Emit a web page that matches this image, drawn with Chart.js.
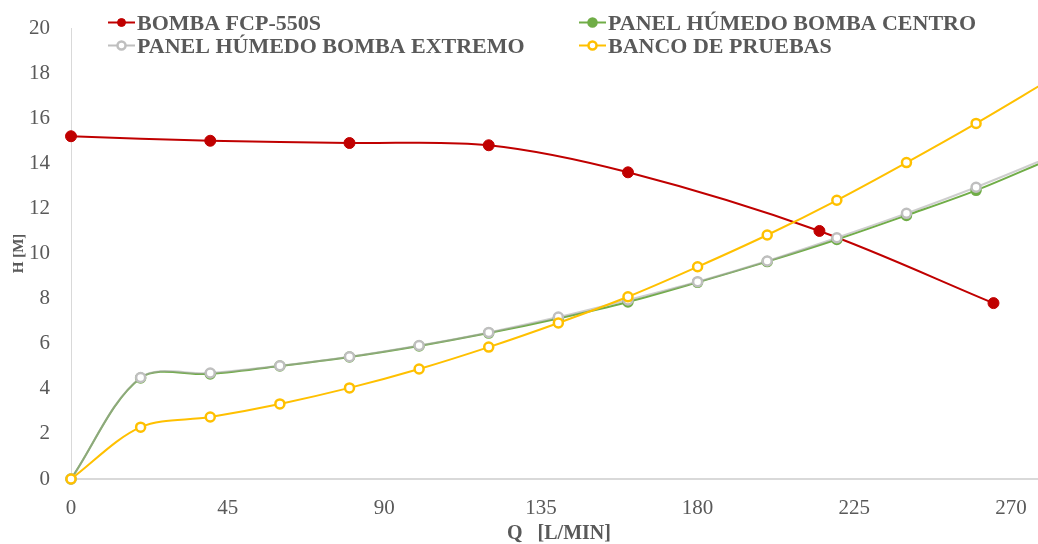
<!DOCTYPE html>
<html>
<head>
<meta charset="utf-8">
<script src="https://cdn.jsdelivr.net/npm/chart.js@4.4.1/dist/chart.umd.min.js"></script>
<style>
  html, body { margin: 0; padding: 0; background: #ffffff; }
  #wrap { width: 1038px; height: 544px; }
</style>
</head>
<body>
<div id="wrap"><canvas id="curvesChart" width="1038" height="544"></canvas></div>
<script>
// caudal Q [L/min] y altura H [m]
const flowBomba = [0, 40, 80, 120, 160, 215, 265];
const headBomba = [15.2, 15.0, 14.9, 14.8, 13.6, 11.0, 7.8];

const flowPanel = [0, 20, 40, 60, 80, 100, 120, 140, 160, 180, 200, 220, 240, 260, 280];
const headCentro = [0, 4.48, 4.66, 5.01, 5.41, 5.9, 6.47, 7.12, 7.85, 8.72, 9.64, 10.62, 11.69, 12.8, 14.1];
const headExtremo = [0, 4.5, 4.7, 5.02, 5.42, 5.92, 6.5, 7.18, 7.94, 8.75, 9.67, 10.7, 11.78, 12.94, 14.2];
const headBanco = [0, 2.3, 2.75, 3.33, 4.04, 4.88, 5.85, 6.92, 8.08, 9.41, 10.82, 12.36, 14.03, 15.77, 17.6];

const seriesNames = ['BOMBA FCP-550S', 'PANEL HÚMEDO BOMBA CENTRO', 'PANEL HÚMEDO BOMBA EXTREMO', 'BANCO DE PRUEBAS'];
const xTicks = [0, 45, 90, 135, 180, 225, 270];
const yTicks = [0, 2, 4, 6, 8, 10, 12, 14, 16, 18, 20];

const textColor = '#595959';
const serif = "'Liberation Serif', 'Times New Roman', serif";

function toPoints(xs, ys) {
    return xs.map((x, i) => ({x: x, y: ys[i]}));
}

function makeSeries(label, xs, ys, color, fill, lineColor, order) {
    return {
        label: label,
        data: toPoints(xs, ys),
        borderColor: lineColor || color,
        backgroundColor: fill,
        pointBorderColor: color,
        pointBackgroundColor: fill,
        pointRadius: 4.5,
        pointBorderWidth: 2.5,
        borderWidth: 2,
        tension: 0.33,
        clip: false,
        order: order
    };
}

let datasets = [
    makeSeries(seriesNames[0], flowBomba, headBomba, '#C00000', '#C00000', null, 3),
    makeSeries(seriesNames[1], flowPanel, headCentro, '#70AD47', '#70AD47', null, 2),
    makeSeries(seriesNames[2], flowPanel, headExtremo, '#BFBFBF', '#ffffff', 'rgba(165,165,165,0.55)', 1),
    makeSeries(seriesNames[3], flowPanel, headBanco, '#FFC000', '#ffffff', null, 0)
];
datasets[0].pointRadius = 5.5;
datasets[0].pointBorderWidth = 1;

// leyenda en dos columnas dibujada encima del area del grafico
const legendPlugin = {
    id: 'twoColLegend',
    afterDatasetsDraw(chart) {
        let ctx = chart.ctx;
        let cols = [108, 579];
        let rows = [30, 53];
        ctx.save();
        ctx.font = "bold 22px " + serif;
        ctx.textBaseline = 'alphabetic';
        ctx.textAlign = 'left';
        chart.data.datasets.forEach((ds, i) => {
            let x = cols[i % 2];
            let base = rows[Math.floor(i / 2)];
            let my = base - 7.5;
            ctx.strokeStyle = ds.pointBorderColor === '#BFBFBF' ? '#BFBFBF' : ds.borderColor;
            ctx.lineWidth = 2;
            ctx.beginPath();
            ctx.moveTo(x, my);
            ctx.lineTo(x + 27, my);
            ctx.stroke();
            ctx.beginPath();
            ctx.arc(x + 13.5, my, 4, 0, Math.PI * 2);
            ctx.fillStyle = ds.pointBackgroundColor;
            ctx.fill();
            ctx.lineWidth = ds.pointBorderWidth;
            ctx.strokeStyle = ds.pointBorderColor;
            ctx.stroke();
            ctx.fillStyle = textColor;
            ctx.fillText(ds.label, x + 29, base);
        });
        ctx.restore();
    }
};

function noScalePadding(scale) {
    scale.paddingLeft = 0;
    scale.paddingRight = 0;
    scale.paddingTop = 0;
    scale.paddingBottom = 0;
}

let canvas = document.getElementById('curvesChart').getContext('2d');
let curvesChart = new Chart(canvas, {
    type: 'line',
    data: { datasets },
    plugins: [legendPlugin],
    options: {
        responsive: false,
        animation: false,
        devicePixelRatio: 1,
        layout: { autoPadding: false, padding: { top: 28, right: 1, bottom: 0, left: 0 } },
        plugins: {
            legend: { display: false },
            tooltip: { enabled: false }
        },
        scales: {
            x: {
                type: 'linear',
                min: 0,
                max: 277.5,
                afterFit: scale => { scale.height = 65; noScalePadding(scale); },
                afterBuildTicks: scale => { scale.ticks = xTicks.map(v => ({value: v})); },
                grid: { display: false, drawTicks: false },
                border: { display: true, color: '#D9D9D9', width: 2 },
                ticks: {
                    includeBounds: false,
                    padding: 17,
                    color: textColor,
                    font: { family: serif, size: 21 }
                },
                title: {
                    display: true,
                    text: '  Q   [L/MIN]',
                    color: textColor,
                    padding: { top: 0, bottom: 0 },
                    font: { family: serif, size: 20, weight: 'bold', lineHeight: 1.0 }
                }
            },
            y: {
                min: 0,
                max: 20,
                afterFit: scale => { scale.width = 71; noScalePadding(scale); },
                afterBuildTicks: scale => { scale.ticks = yTicks.map(v => ({value: v})); },
                grid: { display: false, drawTicks: false },
                border: { display: true, color: '#D9D9D9', width: 1 },
                ticks: {
                    padding: 21,
                    color: textColor,
                    font: { family: serif, size: 21 }
                },
                title: {
                    display: true,
                    text: 'H [M]',
                    color: textColor,
                    padding: { top: 10, bottom: 0 },
                    font: { family: serif, size: 15, weight: 'bold' }
                }
            }
        }
    }
});
</script>
</body>
</html>
